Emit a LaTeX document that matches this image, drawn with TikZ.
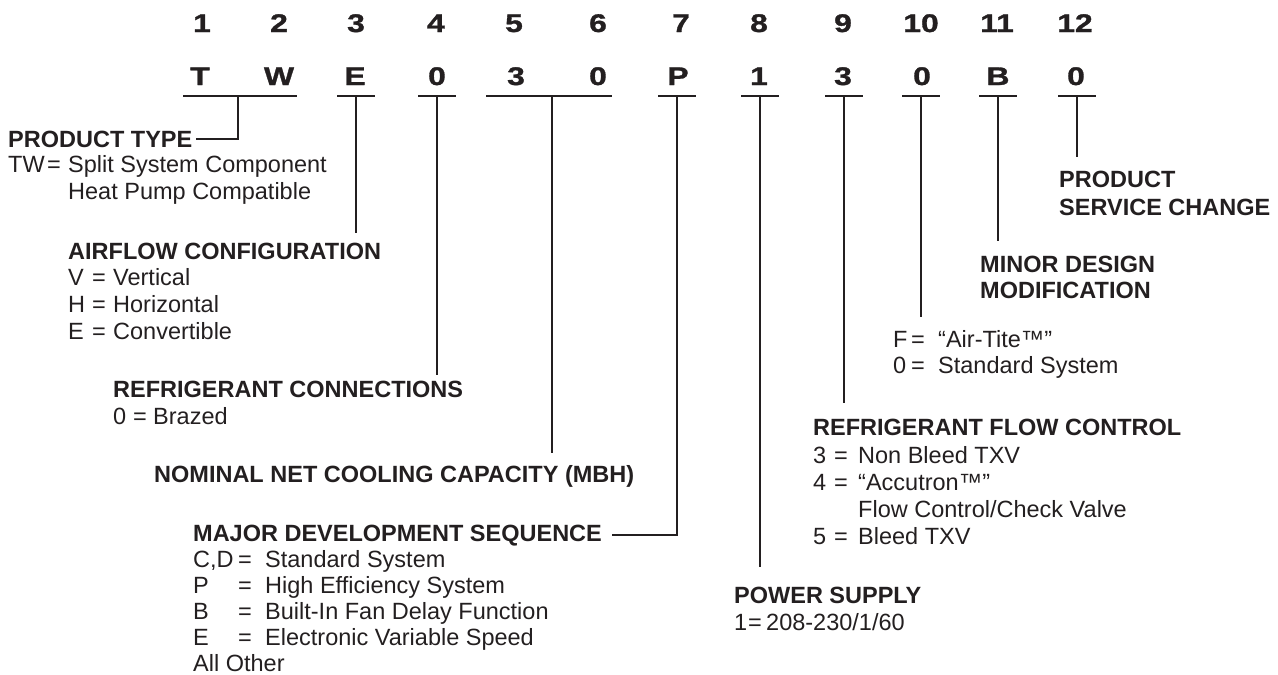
\documentclass[tikz,border=0pt]{standalone}
\usepackage{fontspec}
\setmainfont{Liberation Sans}
\newfontface\codefont{Liberation Sans Bold}[FakeStretch=1.25,FakeBold=1.2]
\definecolor{ink}{HTML}{231F20}
\tikzset{
  txt/.style={anchor=base west, inner sep=0pt, text=ink, font=\fontsize{23.5}{27}\selectfont},
  hdr/.style={anchor=base west, inner sep=0pt, text=ink, font=\fontsize{23.5}{27}\selectfont\bfseries},
  code/.style={anchor=base, inner sep=0pt, text=ink, font=\fontsize{25.5}{28}\codefont},
  ln/.style={draw=ink, line width=1.8pt},
}
\newcommand\kvrow[7]{%
  \node[txt] (#1k) at (#2,#5) {#6};
  \node[txt] (#1e) at (#3,#5) {=};
  \node[txt] (#1v) at (#4,#5) {#7};}
\begin{document}
\begin{tikzpicture}[x=1pt,y=-1pt]
\useasboundingbox (0,0) rectangle (1278,675);
% position numbers
\node[code] (n1) at (202,32) {1};
\node[code] (n2) at (279,32) {2};
\node[code] (n3) at (356,32) {3};
\node[code] (n4) at (436,32) {4};
\node[code] (n5) at (514,32) {5};
\node[code] (n6) at (598,32) {6};
\node[code] (n7) at (681,32) {7};
\node[code] (n8) at (759,32) {8};
\node[code] (n9) at (843,32) {9};
\node[code] (n10) at (921,32) {10};
\node[code] (n11) at (997,32) {11};
\node[code] (n12) at (1075,32) {12};
% code letters
\node[code] (l1) at (200,85) {T};
\node[code] (l2) at (279,85) {W};
\node[code] (l3) at (355,85) {E};
\node[code] (l4) at (437,85) {0};
\node[code] (l5) at (516,85) {3};
\node[code] (l6) at (598,85) {0};
\node[code] (l7) at (678,85) {P};
\node[code] (l8) at (759,85) {1};
\node[code] (l9) at (843,85) {3};
\node[code] (l10) at (922,85) {0};
\node[code] (l11) at (998,85) {B};
\node[code] (l12) at (1076,85) {0};
% underline anchor points (stem tops)
\coordinate (sTW) at (238,96);
\coordinate (sE) at (356,96);
\coordinate (s4) at (437,96);
\coordinate (s56) at (552,96);
\coordinate (sP) at (677,96);
\coordinate (s8) at (760,96);
\coordinate (s9) at (844,96);
\coordinate (s10) at (921,96);
\coordinate (s11) at (998,96);
\coordinate (s12) at (1077,96);
% underlines
\draw[ln] (183,96) -- (297,96);
\draw[ln] ([xshift=-19pt]sE) -- ([xshift=19pt]sE);
\draw[ln] ([xshift=-19pt]s4) -- ([xshift=19pt]s4);
\draw[ln] (486,96) -- (612,96);
\draw[ln] ([xshift=-19pt]sP) -- ([xshift=19pt]sP);
\draw[ln] ([xshift=-19pt]s8) -- ([xshift=19pt]s8);
\draw[ln] ([xshift=-19pt]s9) -- ([xshift=19pt]s9);
\draw[ln] ([xshift=-19pt]s10) -- ([xshift=19pt]s10);
\draw[ln] ([xshift=-19pt]s11) -- ([xshift=19pt]s11);
\draw[ln] ([xshift=-19pt]s12) -- ([xshift=19pt]s12);

% PRODUCT TYPE
\node[hdr] (pt) at (8,147) {PRODUCT TYPE};
\kvrow{tw}{8}{47}{68}{172}{TW}{Split System Component}
\node[txt] (tw2) at (68,199) {Heat Pump Compatible};
\coordinate (ptEnd) at ([xshift=3pt]pt.east);
\draw[ln] (sTW) |- (ptEnd);

% AIRFLOW
\node[hdr] (af) at (68,259) {AIRFLOW CONFIGURATION};
\kvrow{afv}{68}{92}{113}{285}{V}{Vertical}
\kvrow{afh}{68}{92}{113}{312}{H}{Horizontal}
\kvrow{afe}{68}{92}{113}{339}{E}{Convertible}
\coordinate (eE) at (356,233);
\draw[ln] (sE) -- (eE);

% REFRIGERANT CONNECTIONS
\node[hdr] (rc) at (113,397) {REFRIGERANT CONNECTIONS};
\kvrow{rc0}{113}{133}{153}{424}{0}{Brazed}
\coordinate (e4) at (437,375);
\draw[ln] (s4) -- (e4);

% NOMINAL
\node[hdr] (nom) at (154,482) {NOMINAL NET COOLING CAPACITY (MBH)};
\coordinate (e56) at (552,453);
\draw[ln] (s56) -- (e56);

% MAJOR DEVELOPMENT SEQUENCE
\node[hdr] (mds) at (193,541) {MAJOR DEVELOPMENT SEQUENCE};
\kvrow{mcd}{193}{238}{265}{567}{C,D}{Standard System}
\kvrow{mp}{193}{238}{265}{593}{P}{High Efficiency System}
\kvrow{mb}{193}{238}{265}{619}{B}{Built-In Fan Delay Function}
\kvrow{me}{193}{238}{265}{645}{E}{Electronic Variable Speed}
\node[txt] (mall) at (193,671) {All Other};
\coordinate (mdsEnd) at ([xshift=10pt]mds.east);
\draw[ln] (sP) |- (mdsEnd);

% POWER SUPPLY
\node[hdr] (ps) at (734,603) {POWER SUPPLY};
\kvrow{ps1}{734}{748}{766}{630}{1}{208-230/1/60}
\coordinate (e8) at (760,567);
\draw[ln] (s8) -- (e8);

% REFRIGERANT FLOW CONTROL
\node[hdr] (rfc) at (813,435) {REFRIGERANT FLOW CONTROL};
\kvrow{rf3}{813}{834}{858}{463}{3}{Non Bleed TXV}
\kvrow{rf4}{813}{834}{858}{490}{4}{“Accutron™”}
\node[txt] (rf4b) at (858,517) {Flow Control/Check Valve};
\kvrow{rf5}{813}{834}{858}{544}{5}{Bleed TXV}
\coordinate (e9) at (844,403);
\draw[ln] (s9) -- (e9);

% MINOR DESIGN MODIFICATION options
\kvrow{mf}{893}{911}{938}{347}{F}{“Air-Tite™”}
\kvrow{m0}{893}{911}{938}{373}{0}{Standard System}
\coordinate (e10) at (921,317);
\draw[ln] (s10) -- (e10);

\node[hdr] (mdm1) at (980,272) {MINOR DESIGN};
\node[hdr] (mdm2) at (980,298) {MODIFICATION};
\coordinate (e11) at (998,241);
\draw[ln] (s11) -- (e11);

\node[hdr] (psc1) at (1059,187) {PRODUCT};
\node[hdr] (psc2) at (1059,215) {SERVICE CHANGE};
\coordinate (e12) at (1077,157);
\draw[ln] (s12) -- (e12);
\end{tikzpicture}
\end{document}
